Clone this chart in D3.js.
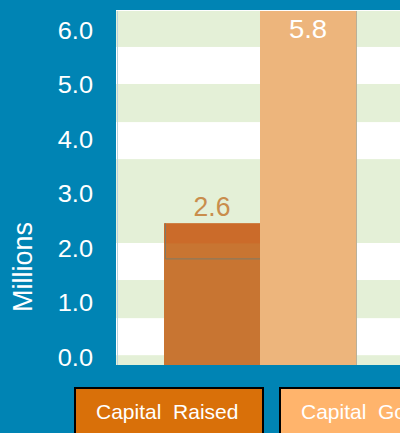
<!DOCTYPE html>
<html>
<head>
<meta charset="utf-8">
<script src="https://cdn.jsdelivr.net/npm/d3@7"></script>
<style>
  html, body { margin: 0; padding: 0; background: #0084B4; }
  svg { display: block; }
  text { font-family: "Liberation Sans", Arial, sans-serif; }
</style>
</head>
<body>
<svg id="chart" width="400" height="433"></svg>
<script>
// ---- data ----
const categories = ["Capital Raised", "Capital Goal"];
const valueLabels = ["2.6", "5.8"];
// bar tops as read against the axis (goal bar runs off the top of the plot)
const barHeights = [2.6, 6.5];
const tickValues = [0, 1, 2, 3, 4, 5, 6];
const tickLabels = ["0.0", "1.0", "2.0", "3.0", "4.0", "5.0", "6.0"];
// green background bands [from, to] in axis units
const greenBands = [[0, 0.18], [0.86, 1.56], [2.24, 3.78], [4.46, 5.16], [5.84, 6.5]];
const legendLabels = ["Capital  Raised", "Capital  Goal"];
const barColors = ["#C87532", "#EDB57C"];
const legendColors = ["#D97009", "#FFB46C"];

const svg = d3.select("#chart");
const plotLeft = 116, plotRight = 420, plotTop = 11, plotBottom = 365;

const y = d3.scaleLinear().domain([0, 6.5]).range([plotBottom, plotTop]);
const x = d3.scaleBand().domain(categories).range([164, 356]).padding(0);

// plot background
svg.append("rect").attr("x", plotLeft).attr("y", plotTop)
  .attr("width", plotRight - plotLeft).attr("height", plotBottom - plotTop)
  .attr("fill", "#FFFFFF");
svg.selectAll("rect.band").data(greenBands).enter().append("rect")
  .attr("class", "band")
  .attr("x", plotLeft).attr("width", plotRight - plotLeft)
  .attr("y", d => y(d[1])).attr("height", d => y(d[0]) - y(d[1]))
  .attr("fill", "#E4F0D7");
// top white rule and left edge line
svg.append("line").attr("x1", plotLeft).attr("x2", plotRight)
  .attr("y1", plotTop - 0.5).attr("y2", plotTop - 0.5)
  .attr("stroke", "#FFFFFF").attr("stroke-width", 1);
svg.append("line").attr("x1", plotLeft + 1.5).attr("x2", plotLeft + 1.5)
  .attr("y1", plotTop).attr("y2", plotBottom)
  .attr("stroke", "#B9D3DE").attr("stroke-width", 1);

// bars
svg.selectAll("rect.bar").data(categories).enter().append("rect")
  .attr("class", "bar")
  .attr("x", d => x(d)).attr("width", x.bandwidth())
  .attr("y", (d, i) => y(barHeights[i]))
  .attr("height", (d, i) => y(0) - y(barHeights[i]))
  .attr("fill", (d, i) => barColors[i]);
// darker cap on the raised bar
svg.append("rect")
  .attr("x", x(categories[0])).attr("width", x.bandwidth())
  .attr("y", y(barHeights[0])).attr("height", 20)
  .attr("fill", "#CB6B2A");
// thin outline artefact on raised bar
svg.append("path")
  .attr("d", `M${x(categories[0]) + 1.5},${y(barHeights[0])} V${y(barHeights[0]) + 35.5} H${x(categories[0]) + x.bandwidth()}`)
  .attr("fill", "none").attr("stroke", "#7E7B68").attr("stroke-width", 1);
// right edge of goal bar
svg.append("line")
  .attr("x1", x(categories[1]) + x.bandwidth() + 0.5).attr("x2", x(categories[1]) + x.bandwidth() + 0.5)
  .attr("y1", plotTop).attr("y2", plotBottom)
  .attr("stroke", "#B9B09A").attr("stroke-width", 1);

// value labels
svg.append("text")
  .attr("transform", `translate(${x(categories[0]) + x.bandwidth() / 2},${y(barHeights[0]) - 7}) scale(0.95,1)`)
  .attr("text-anchor", "middle").attr("font-size", 28)
  .attr("font-family", "'Open Sans', sans-serif")
  .attr("fill", "#C98D4C").text(valueLabels[0]);
svg.append("text")
  .attr("transform", `translate(${x(categories[1]) + x.bandwidth() / 2},${plotTop + 27}) scale(1.1,1)`)
  .attr("text-anchor", "middle").attr("font-size", 25)
  .attr("fill", "#FFFFFF").text(valueLabels[1]);

// y tick labels
svg.selectAll("text.tick").data(tickValues).enter().append("text")
  .attr("class", "tick")
  .attr("transform", d => `translate(93,${y(d) - 7.5}) scale(1.08,1)`)
  .attr("text-anchor", "end").attr("dominant-baseline", "central")
  .attr("font-size", 23.5).attr("fill", "#FFFFFF")
  .text((d, i) => tickLabels[i]);

// y axis title
svg.append("text")
  .attr("transform", `translate(32,267) rotate(-90)`)
  .attr("text-anchor", "middle").attr("font-size", 27)
  .attr("fill", "#FFFFFF").text("Millions");

// legend boxes
const legendX = [75, 280];
const legendW = [188, 160];
svg.selectAll("rect.leg").data(legendLabels).enter().append("rect")
  .attr("class", "leg")
  .attr("x", (d, i) => legendX[i]).attr("y", 388)
  .attr("width", (d, i) => legendW[i]).attr("height", 60)
  .attr("fill", (d, i) => legendColors[i])
  .attr("stroke", "#000000").attr("stroke-width", 2);
svg.selectAll("text.leg").data(legendLabels).enter().append("text")
  .attr("class", "leg")
  .attr("x", (d, i) => legendX[i] + 21).attr("y", 419)
  .attr("font-size", 21).attr("fill", "#FFFFFF")
  .style("white-space", "pre").attr("xml:space", "preserve")
  .text(d => d);
</script>
</body>
</html>
